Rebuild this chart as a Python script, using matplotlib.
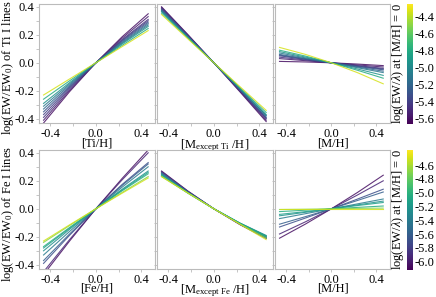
import numpy as np
import matplotlib
matplotlib.use('Agg')
import matplotlib.pyplot as plt
from matplotlib.colors import Normalize
from matplotlib.cm import ScalarMappable

plt.rcParams['font.family'] = ['Liberation Serif', 'DejaVu Serif']
plt.rcParams['mathtext.fontset'] = 'custom'
plt.rcParams['mathtext.rm'] = 'Liberation Serif'
plt.rcParams['mathtext.it'] = 'Liberation Serif:italic'
plt.rcParams['axes.unicode_minus'] = False
FS = 9
plt.rcParams['font.size'] = FS

# ---- data ----
x_grid = [-0.46, -0.23, 0.0, 0.23, 0.46]

ti_logew = [-5.6, -5.55, -5.45, -5.4, -5.3, -5.2, -5.1, -4.95, -4.8, -4.35]
fe_logew = [-6.05, -5.95, -5.7, -5.6, -5.4, -5.25, -5.15, -5.05, -4.7, -4.5]

ti_own = [
    [-0.43, -0.205, 0, 0.185, 0.35],
    [-0.41, -0.195, 0, 0.175, 0.33],
    [-0.39, -0.185, 0, 0.165, 0.31],
    [-0.37, -0.176, 0, 0.159, 0.30],
    [-0.35, -0.168, 0, 0.153, 0.29],
    [-0.33, -0.159, 0, 0.146, 0.28],
    [-0.31, -0.150, 0, 0.140, 0.27],
    [-0.29, -0.141, 0, 0.134, 0.26],
    [-0.26, -0.128, 0, 0.124, 0.245],
    [-0.23, -0.115, 0, 0.115, 0.23],
]
ti_other = [
    [0.40, 0.203, 0, -0.208, -0.42],
    [0.395, 0.199, 0, -0.203, -0.41],
    [0.39, 0.196, 0, -0.199, -0.40],
    [0.385, 0.194, 0, -0.196, -0.395],
    [0.38, 0.191, 0, -0.194, -0.39],
    [0.375, 0.188, 0, -0.189, -0.38],
    [0.37, 0.185, 0, -0.187, -0.375],
    [0.365, 0.183, 0, -0.184, -0.37],
    [0.355, 0.178, 0, -0.178, -0.355],
    [0.345, 0.172, 0, -0.171, -0.34],
]
ti_metal = [
    [0.01, 0.006, 0, -0.009, -0.02],
    [0.03, 0.015, 0, -0.015, -0.03],
    [0.04, 0.02, 0, -0.02, -0.04],
    [0.05, 0.024, 0, -0.023, -0.045],
    [0.055, 0.027, 0, -0.026, -0.05],
    [0.06, 0.03, 0, -0.03, -0.06],
    [0.07, 0.035, 0, -0.035, -0.07],
    [0.08, 0.041, 0, -0.044, -0.09],
    [0.09, 0.048, 0, -0.053, -0.11],
    [0.11, 0.06, 0, -0.07, -0.15],
]
fe_own = [
    [-0.47, -0.229, 0, 0.216, 0.42],
    [-0.45, -0.219, 0, 0.206, 0.40],
    [-0.39, -0.188, 0, 0.173, 0.33],
    [-0.37, -0.179, 0, 0.166, 0.32],
    [-0.33, -0.161, 0, 0.154, 0.30],
    [-0.30, -0.146, 0, 0.139, 0.27],
    [-0.28, -0.138, 0, 0.133, 0.26],
    [-0.27, -0.133, 0, 0.128, 0.25],
    [-0.24, -0.119, 0, 0.116, 0.23],
    [-0.23, -0.114, 0, 0.111, 0.22],
]
fe_other = [
    [0.27, 0.128, 0, -0.113, -0.21],
    [0.265, 0.126, 0, -0.112, -0.21],
    [0.26, 0.123, 0, -0.109, -0.205],
    [0.255, 0.121, 0, -0.107, -0.20],
    [0.25, 0.118, 0, -0.104, -0.195],
    [0.245, 0.116, 0, -0.102, -0.19],
    [0.24, 0.114, 0, -0.103, -0.195],
    [0.235, 0.113, 0, -0.104, -0.20],
    [0.23, 0.113, 0, -0.108, -0.21],
    [0.23, 0.114, 0, -0.111, -0.22],
]
fe_metal = [
    [-0.21, -0.109, 0, 0.116, 0.24],
    [-0.18, -0.093, 0, 0.098, 0.20],
    [-0.13, -0.066, 0, 0.069, 0.14],
    [-0.11, -0.056, 0, 0.059, 0.12],
    [-0.07, -0.035, 0, 0.035, 0.07],
    [-0.05, -0.025, 0, 0.028, 0.055],
    [-0.04, -0.02, 0, 0.023, 0.045],
    [-0.02, -0.01, 0, 0.01, 0.02],
    [-0.005, -0.003, 0, 0.003, 0.005],
    [0.0, 0.0, 0, 0.0, 0.0],
]

ti_xlabels = ['[Ti/H]', r'[M$_{\rm except\ Ti}$ /H]', '[M/H]']
fe_xlabels = ['[Fe/H]', r'[M$_{\rm except\ Fe}$ /H]', '[M/H]']
ti_ylabel = r'log(EW/EW$_0$) of Ti I lines'
fe_ylabel = r'log(EW/EW$_0$) of Fe I lines'
cbar_label = r'log(EW/$\lambda$) at [M/H] = 0'
ti_cticks = [-4.4, -4.6, -4.8, -5.0, -5.2, -5.4, -5.6]
fe_cticks = [-4.6, -4.8, -5.0, -5.2, -5.4, -5.6, -5.8, -6.0]
xticks = [-0.4, -0.2, 0.0, 0.2, 0.4]
yticks = [-0.4, -0.3, -0.2, -0.1, 0.0, 0.1, 0.2, 0.3, 0.4]

# ---- layout ----
W, H = 436, 297
fig = plt.figure(figsize=(W / 100, H / 100), dpi=100)

def px_axes(x0, y0, x1, y1):
    return fig.add_axes([x0 / W, 1 - y1 / H, (x1 - x0) / W, (y1 - y0) / H])

cols = [(39, 155), (157, 273), (275, 390)]
rows = [(4, 123), (150, 269)]
xlabel_pads = [-2, -2.4]
cmap = plt.get_cmap('viridis')
spine_col = '#bbbbbb'

rowdata = [
    (ti_logew, [ti_own, ti_other, ti_metal], ti_xlabels, ti_ylabel, (-5.66, -4.26), ti_cticks),
    (fe_logew, [fe_own, fe_other, fe_metal], fe_xlabels, fe_ylabel, (-6.12, -4.38), fe_cticks),
]

for (y0, y1), lpad, (logew, panels, xlabs, ylab, (vmin, vmax), cticks) in zip(rows, xlabel_pads, rowdata):
    norm = Normalize(vmin=vmin, vmax=vmax)
    for ci, ((x0, x1), pdata, xl) in enumerate(zip(cols, panels, xlabs)):
        ax = px_axes(x0, y0, x1, y1)
        ax.patch.set_alpha(0)
        for val, ys in zip(logew, pdata):
            ax.plot(x_grid, ys, color=cmap(norm(val)), lw=0.8, alpha=0.85)
        ax.set_xlim(-0.5, 0.52)
        ax.set_ylim(-0.43, 0.42)
        ax.set_xticks(xticks)
        ax.set_xticklabels(['-0.4', '', '0.0', '', '0.4'])
        ax.set_yticks(yticks)
        if ci == 0:
            ax.set_yticklabels(['-0.4', '', '-0.2', '', '0.0', '', '0.2', '', '0.4'])
            ax.set_ylabel(ylab)
            ax.yaxis.set_label_coords(-0.2, 0.465)
        else:
            ax.set_yticklabels([])
        ax.set_xlabel(xl, labelpad=lpad)
        for s in ax.spines.values():
            s.set_color(spine_col)
            s.set_linewidth(0.8)
        ax.tick_params(direction='out', length=2.5, width=0.6, color=spine_col,
                       pad=1.0, labelsize=FS)
    cax = px_axes(407, y0, 413, y1 + 1)
    sm = ScalarMappable(norm=norm, cmap=cmap)
    cb = fig.colorbar(sm, cax=cax)
    cb.set_ticks(cticks)
    cb.set_ticklabels(['%.1f' % t for t in cticks])
    cb.outline.set_visible(False)
    cax.tick_params(length=0, pad=1, labelsize=FS)
    cax.yaxis.set_label_position('left')
    cb.set_label(cbar_label, labelpad=1, fontsize=FS)

fig.savefig('out.png', dpi=100)
